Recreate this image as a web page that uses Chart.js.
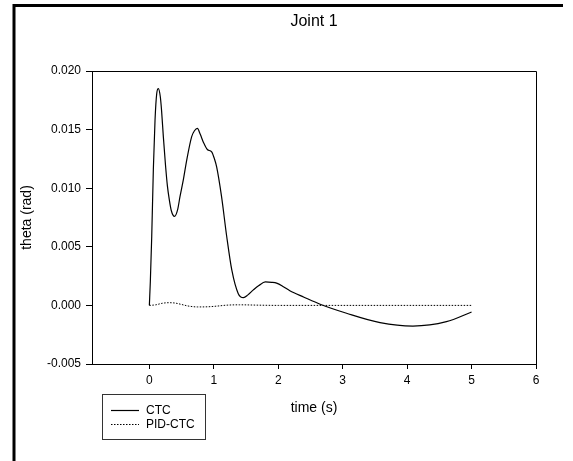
<!DOCTYPE html>
<html>
<head>
<meta charset="utf-8">
<script src="https://cdn.jsdelivr.net/npm/chart.js@4"></script>
<style>
  html, body { margin: 0; padding: 0; background: #fff; }
  #wrap { width: 573px; height: 461px; }
</style>
</head>
<body>
<div id="wrap"><canvas id="joint"></canvas></div>
<script>
// time (s) and theta (rad)
const ctcTime = [0, 0.015, 0.037, 0.062, 0.088, 0.115, 0.14, 0.17, 0.19, 0.217, 0.25, 0.28, 0.31, 0.34, 0.39, 0.44, 0.476, 0.53, 0.58, 0.657, 0.70, 0.745, 0.79, 0.84, 0.90, 0.967, 1.01, 1.045, 1.12, 1.2, 1.28, 1.38, 1.46, 1.53, 1.61, 1.70, 1.80, 1.90, 1.975, 2.08, 2.18, 2.4, 2.65, 3.06, 3.58, 4.09, 4.61, 5.0];
const ctcTheta = [0, 0.002, 0.0059, 0.0116, 0.0158, 0.0181, 0.0185, 0.0178, 0.0166, 0.0144, 0.0120, 0.0102, 0.0090, 0.0081, 0.0076, 0.0082, 0.0093, 0.0108, 0.0124, 0.0144, 0.0149, 0.0151, 0.0146, 0.0139, 0.0133, 0.0131, 0.0125, 0.0118, 0.0093, 0.0059, 0.0030, 0.0010, 0.00066, 0.0009, 0.0013, 0.0017, 0.0020, 0.00197, 0.0019, 0.0016, 0.00125, 0.0007, 0.0001, -0.00067, -0.00147, -0.00176, -0.00139, -0.00056];

const pidTime = [0, 0.1, 0.2, 0.3, 0.4, 0.5, 0.6, 0.75, 0.9, 1.05, 1.2, 1.4, 1.7, 2.0, 3.0, 4.0, 5.0];
const pidTheta = [0, 0.00005, 0.00018, 0.00023, 0.0002, 0.00008, -0.00005, -0.00013, -0.00012, -0.00006, 0.00002, 0.00005, 0.00002, 0, 0, 0, 0];

const xTicks = [0, 1, 2, 3, 4, 5, 6];
const yTicks = [-0.005, 0.000, 0.005, 0.010, 0.015, 0.020];

const FONT = "'Liberation Sans', Arial, sans-serif";
Chart.defaults.font.family = FONT;
Chart.defaults.color = "#000";

const toPoints = (xs, ys) => xs.map((x, i) => ({ x: x, y: ys[i] }));

const decorations = {
  id: "decorations",
  afterDraw(chart) {
    const ctx = chart.ctx;
    const a = chart.chartArea;
    ctx.save();

    // plot frame
    ctx.strokeStyle = "#000";
    ctx.lineWidth = 1;
    ctx.beginPath();
    ctx.moveTo(a.left, a.top + 0.5);
    ctx.lineTo(a.right + 0.5, a.top + 0.5);
    ctx.lineTo(a.right + 0.5, a.bottom);
    ctx.stroke();

    // outer page border (left and top)
    ctx.lineWidth = 3;
    ctx.beginPath();
    ctx.moveTo(14, 461);
    ctx.lineTo(14, 5.5);
    ctx.lineTo(563, 5.5);
    ctx.stroke();

    // title and axis titles
    const cx = (a.left + a.right) / 2;
    ctx.fillStyle = "#000";
    ctx.textAlign = "center";
    ctx.textBaseline = "middle";
    ctx.font = "16px " + FONT;
    ctx.fillText("Joint 1", cx, 22);
    ctx.font = "14px " + FONT;
    ctx.fillText("time (s)", cx, 408);
    ctx.save();
    ctx.translate(27, (a.top + a.bottom) / 2);
    ctx.rotate(-Math.PI / 2);
    ctx.fillText("theta (rad)", 0, 0);
    ctx.restore();

    // legend box
    ctx.strokeStyle = "#333";
    ctx.lineWidth = 1;
    ctx.strokeRect(102.5, 394.5, 103, 45);
    ctx.font = "12px " + FONT;
    ctx.textAlign = "left";
    chart.data.datasets.forEach((ds, i) => {
      const y = 410.5 + i * 14;
      ctx.strokeStyle = ds.borderColor;
      ctx.lineWidth = ds.borderWidth;
      ctx.setLineDash(ds.borderDash || []);
      ctx.beginPath();
      ctx.moveTo(111, y);
      ctx.lineTo(139, y);
      ctx.stroke();
      ctx.setLineDash([]);
      ctx.fillText(ds.label, 146, y);
    });
    ctx.restore();
  },
};

new Chart(document.getElementById("joint"), {
  type: "scatter",
  data: {
    datasets: [
      {
        label: "CTC",
        data: toPoints(ctcTime, ctcTheta),
        showLine: true,
        borderColor: "#000",
        borderWidth: 1.2,
        pointRadius: 0,
        cubicInterpolationMode: "monotone",
      },
      {
        label: "PID-CTC",
        data: toPoints(pidTime, pidTheta),
        showLine: true,
        borderColor: "#000",
        borderWidth: 1,
        borderDash: [1.5, 1.5],
        pointRadius: 0,
        cubicInterpolationMode: "monotone",
      },
    ],
  },
  options: {
    responsive: true,
    maintainAspectRatio: false,
    animation: false,
    layout: { padding: { top: 71, right: 37, left: 0, bottom: 0 } },
    plugins: {
      legend: { display: false },
      title: { display: false },
      tooltip: { enabled: false },
    },
    scales: {
      x: {
        type: "linear",
        min: -0.89,
        max: 6,
        afterFit: (s) => { s.height = 97; },
        afterBuildTicks: (s) => { s.ticks = xTicks.map((v) => ({ value: v })); },
        grid: { drawOnChartArea: false, color: "#000", tickLength: 5 },
        border: { display: true, color: "#000", width: 1 },
        ticks: { font: { size: 12 }, padding: 4, maxRotation: 0, autoSkip: false },
      },
      y: {
        type: "linear",
        min: -0.005,
        max: 0.020,
        afterFit: (s) => { s.width = 92; },
        afterBuildTicks: (s) => { s.ticks = yTicks.map((v) => ({ value: v })); },
        grid: { drawOnChartArea: false, color: "#000", tickLength: 6 },
        border: { display: true, color: "#000", width: 1 },
        ticks: { font: { size: 12 }, padding: 5, callback: (v) => v.toFixed(3) },
      },
    },
  },
  plugins: [decorations],
});
</script>
</body>
</html>
